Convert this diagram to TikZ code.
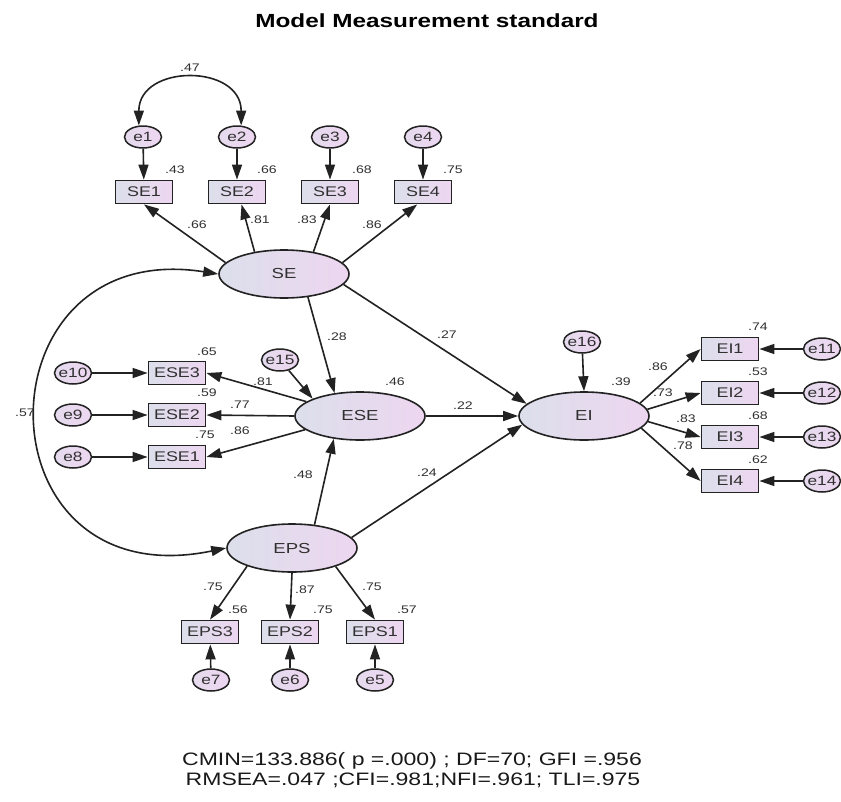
\documentclass[tikz,border=0pt]{standalone}
\usepackage{fontspec}
\setmainfont{Liberation Sans}[FakeStretch=1.28]
\usetikzlibrary{arrows.meta,shapes.geometric}
\definecolor{fillL}{HTML}{DCDFEB}
\definecolor{fillR}{HTML}{EDD6F0}
\definecolor{ink}{HTML}{222222}
\definecolor{txt}{HTML}{303030}
\begin{document}
\begin{tikzpicture}[x=1pt,y=1pt,
  every node/.style={text=txt},
  obs/.style={draw=ink, line width=1.8pt, rectangle, minimum width=57pt, minimum height=23pt, inner sep=0pt, left color=fillL, right color=fillR, font=\fontsize{14}{15}\selectfont},
  err/.style={draw=ink, line width=1.5pt, ellipse, minimum width=37pt, minimum height=22pt, inner xsep=-3pt, inner ysep=0pt, left color=fillL!50!fillR, right color=fillR, font=\fontsize{13.5}{14}\selectfont},
  lat/.style={draw=ink, line width=1.6pt, ellipse, minimum width=130pt, minimum height=48pt, inner sep=0pt, left color=fillL, right color=fillR, font=\fontsize{14.5}{15}\selectfont},
  coef/.style={font=\fontsize{11}{12}\selectfont, inner sep=0pt},
  arr/.style={draw=ink, line width=1.6pt, -{Triangle[length=15pt,width=10pt]}},
  darr/.style={draw=ink, line width=1.6pt, {Triangle[length=15pt,width=10pt]}-{Triangle[length=15pt,width=10pt]}}
]
\useasboundingbox[fill=white] (0,0) rectangle (841,-801);

\node[font=\bfseries\fontsize{19}{20}\selectfont, text=black] (title) at (427,-21) {Model Measurement standard};

% error terms top
\node[err] (e1) at (143,-137) {e1};
\node[err] (e2) at (237,-137) {e2};
\node[err] (e3) at (330,-137) {e3};
\node[err] (e4) at (423,-137) {e4};
\node[obs] (SE1) at (144,-192) {SE1};
\node[obs] (SE2) at (237,-192) {SE2};
\node[obs] (SE3) at (330,-192) {SE3};
\node[obs] (SE4) at (423,-192) {SE4};

% latents
\node[lat] (SE) at (284,-274) {SE};
\node[lat] (ESE) at (360,-416) {ESE};
\node[lat] (EI) at (584,-416) {EI};
\node[lat] (EPS) at (292,-548) {EPS};
\node[err] (e15) at (280,-360) {e15};
\node[err] (e16) at (582,-342) {e16};

% ESE indicators
\node[obs] (ESE3) at (177,-373) {ESE3};
\node[obs] (ESE2) at (177,-415) {ESE2};
\node[obs] (ESE1) at (177,-457) {ESE1};
\node[err] (e10) at (73,-373) {e10};
\node[err] (e9) at (73,-415) {e9};
\node[err] (e8) at (73,-457) {e8};

% EI indicators
\node[obs] (EI1) at (730,-349) {EI1};
\node[obs] (EI2) at (730,-393) {EI2};
\node[obs] (EI3) at (730,-437) {EI3};
\node[obs] (EI4) at (730,-481) {EI4};
\node[err] (e11) at (822,-349) {e11};
\node[err] (e12) at (822,-393) {e12};
\node[err] (e13) at (822,-437) {e13};
\node[err] (e14) at (822,-481) {e14};

% EPS indicators
\node[obs] (EPS3) at (210,-632) {EPS3};
\node[obs] (EPS2) at (290,-632) {EPS2};
\node[obs] (EPS1) at (375,-632) {EPS1};
\node[err] (e7) at (211,-680) {e7};
\node[err] (e6) at (290,-680) {e6};
\node[err] (e5) at (375,-680) {e5};

% connectors
\draw[arr] (e1) -- (SE1);
\draw[arr] (e2) -- (SE2);
\draw[arr] (e3) -- (SE3);
\draw[arr] (e4) -- (SE4);
\draw[darr] (e1.110) to[out=90,in=90,looseness=1.55] (e2.70);
\draw[arr] (SE.169) -- (SE1.south);
\draw[arr] (SE.143) -- (SE2.-70);
\draw[arr] (SE.37) -- (SE3.south);
\draw[arr] (SE.11) -- (SE4.-115);
\draw[arr] (SE.-44) -- (ESE.138);
\draw[arr] (SE.-10) -- (EI.168);
\draw[arr] (ESE.east) -- (EI.west);
\draw[arr] (EPS.10) -- (EI.188);
\draw[arr] (EPS.46) -- (ESE.221);
\draw[arr] (e15) -- (ESE.160);
\draw[arr] (e16) -- (EI.north);
\draw[arr] (ESE.165) -- (ESE3.east);
\draw[arr] (ESE.180) -- (ESE2.east);
\draw[arr] (ESE.194) -- (ESE1.east);
\draw[arr] (e10) -- (ESE3);
\draw[arr] (e9) -- (ESE2);
\draw[arr] (e8) -- (ESE1);
\draw[arr] (EI.13) -- (EI1.west);
\draw[arr] (EI.6) -- (EI2.west);
\draw[arr] (EI.-5) -- (EI3.west);
\draw[arr] (EI.-12) -- (EI4.west);
\draw[arr] (e11) -- (EI1);
\draw[arr] (e12) -- (EI2);
\draw[arr] (e13) -- (EI3);
\draw[arr] (e14) -- (EI4);
\draw[arr] (EPS.202) -- (EPS3.north);
\draw[arr] (EPS.south) -- (EPS2.north);
\draw[arr] (EPS.-23) -- (EPS1.north);
\draw[arr] (e7) -- (EPS3);
\draw[arr] (e6) -- (EPS2);
\draw[arr] (e5) -- (EPS1);
\draw[darr] (EPS.west) .. controls (-25,-600) and (-25,-236) .. (SE.west);

% coefficients
\node[coef] (k1) at (190,-68) {.47};
\node[coef] (k2) at (175,-170) {.43};
\node[coef] (k3) at (267,-170) {.66};
\node[coef] (k4) at (362,-170) {.68};
\node[coef] (k5) at (453,-170) {.75};
\node[coef] (k6) at (197,-225) {.66};
\node[coef] (k7) at (260,-220) {.81};
\node[coef] (k8) at (307,-220) {.83};
\node[coef] (k9) at (372,-225) {.86};
\node[coef] (k10) at (337,-337) {.28};
\node[coef] (k11) at (447,-335) {.27};
\node[coef] (k12) at (395,-382) {.46};
\node[coef] (k13) at (463,-406) {.22};
\node[coef] (k14) at (621,-382) {.39};
\node[coef] (k15) at (207,-352) {.65};
\node[coef] (k16) at (207,-393) {.59};
\node[coef] (k17) at (205,-435) {.75};
\node[coef] (k18) at (263,-382) {.81};
\node[coef] (k19) at (240,-405) {.77};
\node[coef] (k20) at (240,-431) {.86};
\node[coef] (k21) at (25,-413) {.57};
\node[coef] (k22) at (303,-475) {.48};
\node[coef] (k23) at (427,-473) {.24};
\node[coef] (k24) at (213,-587) {.75};
\node[coef] (k25) at (305,-590) {.87};
\node[coef] (k26) at (372,-587) {.75};
\node[coef] (k27) at (238,-610) {.56};
\node[coef] (k28) at (323,-610) {.75};
\node[coef] (k29) at (407,-610) {.57};
\node[coef] (k30) at (758,-327) {.74};
\node[coef] (k31) at (758,-372) {.53};
\node[coef] (k32) at (758,-416) {.68};
\node[coef] (k33) at (758,-460) {.62};
\node[coef] (k34) at (658,-367) {.86};
\node[coef] (k35) at (663,-393) {.73};
\node[coef] (k36) at (686,-419) {.83};
\node[coef] (k37) at (683,-446) {.78};

% fit indices
\node[font=\fontsize{18}{19}\selectfont, text=black!90] (fit1) at (412,-761) {CMIN=133.886( p =.000) ; DF=70; GFI =.956};
\node[font=\fontsize{18}{19}\selectfont, text=black!90] (fit2) at (413,-780) {RMSEA=.047 ;CFI=.981;NFI=.961; TLI=.975};
\end{tikzpicture}
\end{document}
